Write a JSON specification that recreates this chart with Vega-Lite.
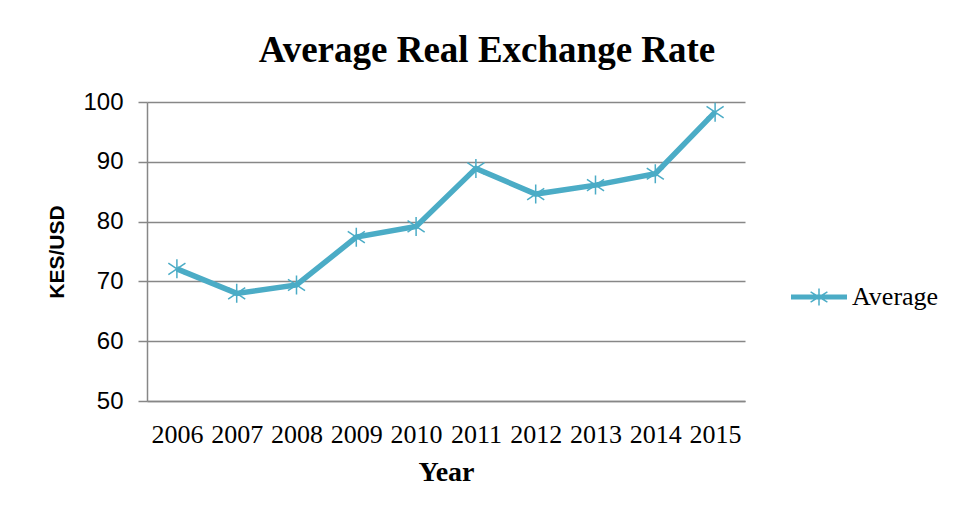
{
  "$schema": "https://vega.github.io/schema/vega-lite/v6.json",
  "width": 598,
  "height": 299,
  "autosize": {"type": "none"},
  "padding": {"left": 147, "top": 102, "right": 213, "bottom": 116},
  "background": "white",
  "config": {"view": {"stroke": null}},
  "title": {
    "text": "Average Real Exchange Rate",
    "font": "Liberation Serif",
    "fontSize": 37,
    "fontWeight": "bold",
    "color": "black",
    "anchor": "middle",
    "frame": "group",
    "dx": 41,
    "offset": 20
  },
  "data": {
    "values": [
      {"year": "2006", "rate": 72.1, "series": "Average"},
      {"year": "2007", "rate": 68.0, "series": "Average"},
      {"year": "2008", "rate": 69.4, "series": "Average"},
      {"year": "2009", "rate": 77.4, "series": "Average"},
      {"year": "2010", "rate": 79.2, "series": "Average"},
      {"year": "2011", "rate": 88.9, "series": "Average"},
      {"year": "2012", "rate": 84.6, "series": "Average"},
      {"year": "2013", "rate": 86.1, "series": "Average"},
      {"year": "2014", "rate": 88.0, "series": "Average"},
      {"year": "2015", "rate": 98.3, "series": "Average"}
    ]
  },
  "encoding": {
    "x": {
      "field": "year",
      "type": "ordinal",
      "scale": {"type": "point", "padding": 0.5},
      "axis": {
        "labelAngle": 0,
        "ticks": false,
        "tickSize": 0,
        "domain": true,
        "domainColor": "#878787",
        "domainWidth": 1.5,
        "labelFont": "Liberation Serif",
        "labelFontSize": 26,
        "labelColor": "black",
        "labelPadding": 20,
        "title": "Year",
        "titleFont": "Liberation Serif",
        "titleFontSize": 28,
        "titleFontWeight": "bold",
        "titleColor": "black",
        "titlePadding": 11
      }
    },
    "y": {
      "field": "rate",
      "type": "quantitative",
      "scale": {"domain": [50, 100], "nice": false, "zero": false},
      "axis": {
        "values": [50, 60, 70, 80, 90, 100],
        "grid": true,
        "gridColor": "#878787",
        "gridWidth": 1.5,
        "domainColor": "#878787",
        "domainWidth": 1.5,
        "tickColor": "#878787",
        "tickSize": 9,
        "tickWidth": 1.5,
        "labelFont": "Liberation Sans",
        "labelFontSize": 24,
        "labelColor": "black",
        "labelPadding": 15,
        "title": "KES/USD",
        "titleFont": "Liberation Sans",
        "titleFontSize": 21,
        "titleFontWeight": "bold",
        "titleColor": "black",
        "titlePadding": 15
      }
    }
  },
  "layer": [
    {
      "mark": {"type": "line", "color": "#4BACC6", "strokeWidth": 5.5, "strokeJoin": "miter"}
    },
    {
      "mark": {
        "type": "point",
        "shape": "M0,-1L0,1M-0.9,-0.6L0.9,0.6M-0.9,0.6L0.9,-0.6",
        "filled": false,
        "strokeWidth": 1.5,
        "size": 361,
        "opacity": 1
      },
      "encoding": {
        "color": {
          "field": "series",
          "type": "nominal",
          "scale": {"range": ["#4BACC6"]},
          "legend": {
            "title": null,
            "orient": "none",
            "legendX": 657,
            "legendY": 180,
            "padding": 0,
            "symbolType": "M-2,-0.12L2,-0.12M-2,-0.06L2,-0.06M-2,0L2,0M-2,0.06L2,0.06M-2,0.12L2,0.12M0,-0.6L0,0.6M-0.6,-0.36L0.6,0.36M-0.6,0.36L0.6,-0.36",
            "symbolSize": 784,
            "symbolStrokeWidth": 1.5,
            "symbolStrokeColor": "#4BACC6",
            "labelFont": "Liberation Serif",
            "labelFontSize": 26,
            "labelColor": "black",
            "labelOffset": 18
          }
        }
      }
    }
  ]
}
